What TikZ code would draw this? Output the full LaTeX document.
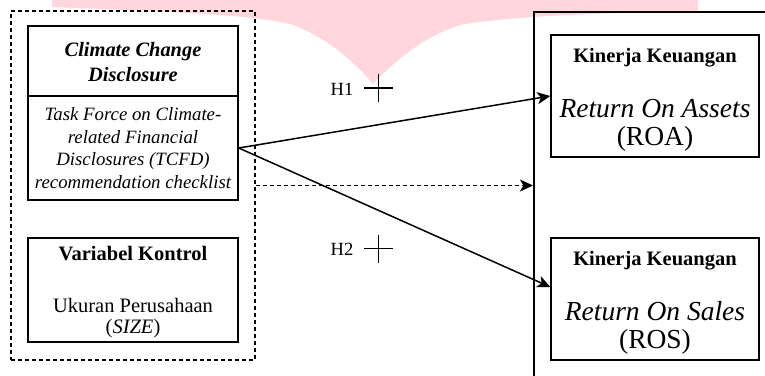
\documentclass[tikz,border=0pt]{standalone}
\usepackage{fontspec}
\setmainfont{LiberationSerif}[Extension=.ttf, UprightFont=*-Regular, BoldFont=*-Bold, ItalicFont=*-Italic, BoldItalicFont=*-BoldItalic]
\usetikzlibrary{arrows.meta}

\definecolor{wmpink}{RGB}{255,214,219}

\tikzset{
  box/.style={draw, line width=1.5pt, inner sep=0pt, minimum width=210pt},
  dvbox/.style={draw, line width=1.5pt, inner sep=0pt, minimum width=208pt, minimum height=122pt},
  conn/.style={line width=1.5pt, -{Stealth[length=13pt,width=12pt,inset=3.5pt]}},
  dashline/.style={dash pattern=on 4pt off 3pt},
  hdb/.style={anchor=base, font=\fontsize{20.5}{24}\selectfont\bfseries},
  hdbi/.style={anchor=base, font=\fontsize{20.4}{24}\selectfont\bfseries\itshape},
  itl/.style={anchor=base, font=\fontsize{18.8}{22}\selectfont\itshape},
  reg/.style={anchor=base, font=\fontsize{20.5}{24}\selectfont},
  big/.style={anchor=base, font=\fontsize{27.5}{30}\selectfont},
  hyp/.style={anchor=base, font=\fontsize{18.6}{22}\selectfont}
}

\begin{document}
\begin{tikzpicture}[x=1pt,y=-1pt]
\useasboundingbox (0,0) rectangle (765,375);
\clip (0,0) rectangle (765,375);

% watermark in the back
\fill[wmpink] (52,0) -- (52,7) .. controls (150,11) and (250,14) .. (290,24)
  .. controls (325,36) and (355,62) .. (373,84)
  .. controls (395,60) and (430,32) .. (465,24)
  .. controls (530,14) and (640,12) .. (698,12) -- (698,0) -- cycle;

% independent side
\node[draw, dashline, line width=1.5pt, minimum width=244pt, minimum height=349pt] (indep) at (133,185.5) {};
\node[box, minimum height=70pt] (ccdhead) at (133,61) {};
\node[box, minimum height=104pt] (ccdbody) at (133,148) {};
\node[box, minimum height=104pt] (kontrol) at (133,290) {};

\node[hdbi] (ccd1) at (133,56) {Climate Change};
\node[hdbi] (ccd2) at (133,81.7) {Disclosure};
\foreach \txt [count=\i] in {Task Force on Climate-, related Financial, Disclosures (TCFD), recommendation checklist}
  \node[itl] (tcfd\i) at (133,98.2+22.5*\i) {\txt};

\node[hdb] (kon1) at (133,260.7) {Variabel Kontrol};
\node[reg] (kon2) at (133,312.7) {Ukuran Perusahaan};
\node[reg] (kon3) at (133,333.7) {(\textit{SIZE})};

% dependent side
\node[draw, line width=1.5pt, anchor=north west, minimum width=300pt, minimum height=420pt] (dv) at (533,11) {};
\node[dvbox] (roa) at (655,96) {};
\node[dvbox] (ros) at (655,299) {};

\node[hdb] (roa1) at (655,62.7) {Kinerja Keuangan};
\node[big] (roa2) at (655,117.3) {\textit{Return On Assets}};
\node[big] (roa3) at (655,145.7) {(ROA)};
\node[hdb] (ros1) at (655,265.5) {Kinerja Keuangan};
\node[big] (ros2) at (655,320.3) {\textit{Return On Sales}};
\node[big] (ros3) at (655,348.2) {(ROS)};

% hypotheses
\node[hyp] (h1) at (342,95) {H1};
\node[hyp] (h2) at (342,255) {H2};
\foreach \y in {88,248.5}
  \draw[line width=1.5pt] (364.3,\y) -- (392.7,\y) (378.5,\y-14) -- (378.5,\y+14);

\draw[conn] (ccdbody.east) -- (roa.west);
\draw[conn] (ccdbody.east) -- ([yshift=12pt]ros.west);
\draw[conn, dashline] (indep.east) -- (indep.east -| dv.west);

\end{tikzpicture}
\end{document}
